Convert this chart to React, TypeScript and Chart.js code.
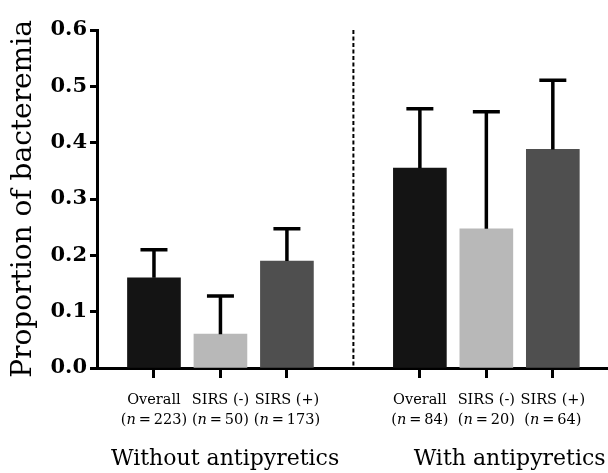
import { useEffect, useRef } from "react";
import { Chart, registerables } from "chart.js";

Chart.register(...registerables);

const categories = ["Overall", "SIRS (-)", "SIRS (+)", "Overall", "SIRS (-)", "SIRS (+)"];
const sampleSizes = [223, 50, 173, 84, 20, 64];
const xPositions = [0, 1, 2, 4, 5, 6];
const proportions = [0.16, 0.06, 0.19, 0.355, 0.247, 0.388];
const upperErrors = [0.21, 0.128, 0.247, 0.46, 0.455, 0.511];
const barColors = ["#141414", "#b8b8b8", "#4f4f4f", "#141414", "#b8b8b8", "#4f4f4f"];
const groupLabels = ["Without antipyretics", "With antipyretics"];
const groupLabelX = [1.07, 5.35];
const separatorX = 3;

const SERIF = "'DejaVu Serif', serif";

const overlayPlugin = {
  id: "overlay",
  afterDatasetsDraw(chart: any) {
    const { ctx, chartArea, scales } = chart;
    const xs = scales.x;
    const ys = scales.y;
    ctx.save();
    // separator
    const sx = xs.getPixelForValue(separatorX);
    ctx.strokeStyle = "#000";
    ctx.lineWidth = 2;
    ctx.setLineDash([4, 2.5]);
    ctx.beginPath();
    ctx.moveTo(sx, chartArea.top);
    ctx.lineTo(sx, chartArea.bottom);
    ctx.stroke();
    ctx.setLineDash([]);
    // error bars
    ctx.lineWidth = 3.5;
    ctx.lineCap = "butt";
    xPositions.forEach((xv, i) => {
      const px = xs.getPixelForValue(xv);
      const y0 = ys.getPixelForValue(proportions[i]);
      const y1 = ys.getPixelForValue(upperErrors[i]);
      ctx.beginPath();
      ctx.moveTo(px, y0);
      ctx.lineTo(px, y1);
      ctx.moveTo(px - 13.5, y1);
      ctx.lineTo(px + 13.5, y1);
      ctx.stroke();
    });
    // x labels
    ctx.fillStyle = "#000";
    ctx.textBaseline = "middle";
    const base = chartArea.bottom;
    const normal = `14.5px ${SERIF}`;
    const italic = `italic 14.5px ${SERIF}`;
    xPositions.forEach((xv, i) => {
      const px = xs.getPixelForValue(xv);
      ctx.textAlign = "center";
      ctx.font = normal;
      ctx.fillText(categories[i], px, base + 32);
      const parts: [string, string][] = [
        ["(", normal],
        ["n", italic],
        ["\u2009=\u2009" + sampleSizes[i] + ")", normal],
      ];
      let total = 0;
      parts.forEach(([t, f]) => {
        ctx.font = f;
        total += ctx.measureText(t).width;
      });
      let cx = px - total / 2;
      ctx.textAlign = "left";
      parts.forEach(([t, f]) => {
        ctx.font = f;
        ctx.fillText(t, cx, base + 52);
        cx += ctx.measureText(t).width;
      });
    });
    ctx.textAlign = "center";
    ctx.font = `22px ${SERIF}`;
    groupLabels.forEach((g, i) => {
      ctx.fillText(g, xs.getPixelForValue(groupLabelX[i]), base + 91);
    });
    ctx.restore();
  },
};

export default function App() {
  const ref = useRef<HTMLCanvasElement>(null);
  useEffect(() => {
    const chart = new Chart(ref.current!, {
      type: "bar",
      data: {
        datasets: [
          {
            data: xPositions.map((x, i) => ({ x, y: proportions[i] })),
            backgroundColor: barColors,
            barThickness: 53,
          } as any,
        ],
      },
      options: {
        animation: false,
        responsive: false,
        layout: { padding: { top: 30, left: 0, right: 0, bottom: 0 } },
        plugins: { legend: { display: false }, tooltip: { enabled: false } },
        scales: {
          x: {
            type: "linear",
            offset: false,
            min: -0.857,
            max: 6.83,
            afterBuildTicks: (s: any) => {
              s.ticks = xPositions.map((v) => ({ value: v }));
            },
            afterFit: (s: any) => {
              s.height = 105;
            },
            ticks: { display: false },
            grid: { offset: false, drawOnChartArea: false, drawTicks: true, tickLength: 10, tickWidth: 3, tickColor: "#000" },
            border: { color: "#000", width: 3 },
          },
          y: {
            min: 0,
            max: 0.6,
            afterFit: (s: any) => {
              s.width = 97;
            },
            ticks: {
              stepSize: 0.1,
              callback: (v: any) => Number(v).toFixed(1),
              color: "#000",
              font: { family: SERIF, weight: "bold", size: 21 },
              padding: 3,
            },
            grid: { drawOnChartArea: false, tickLength: 7, tickWidth: 3, tickColor: "#000" },
            border: { color: "#000", width: 3 },
            title: {
              display: true,
              text: "Proportion of bacteremia",
              color: "#000",
              font: { family: SERIF, size: 28 },
              padding: { top: 7, bottom: 0 },
            },
          },
        },
      } as any,
      plugins: [overlayPlugin],
    });
    return () => chart.destroy();
  }, []);
  return (
    <div style={{ position: "absolute", left: 0, top: 0, width: 608, height: 473, background: "#fff" }}>
      <canvas ref={ref} width={608} height={473} />
    </div>
  );
}
